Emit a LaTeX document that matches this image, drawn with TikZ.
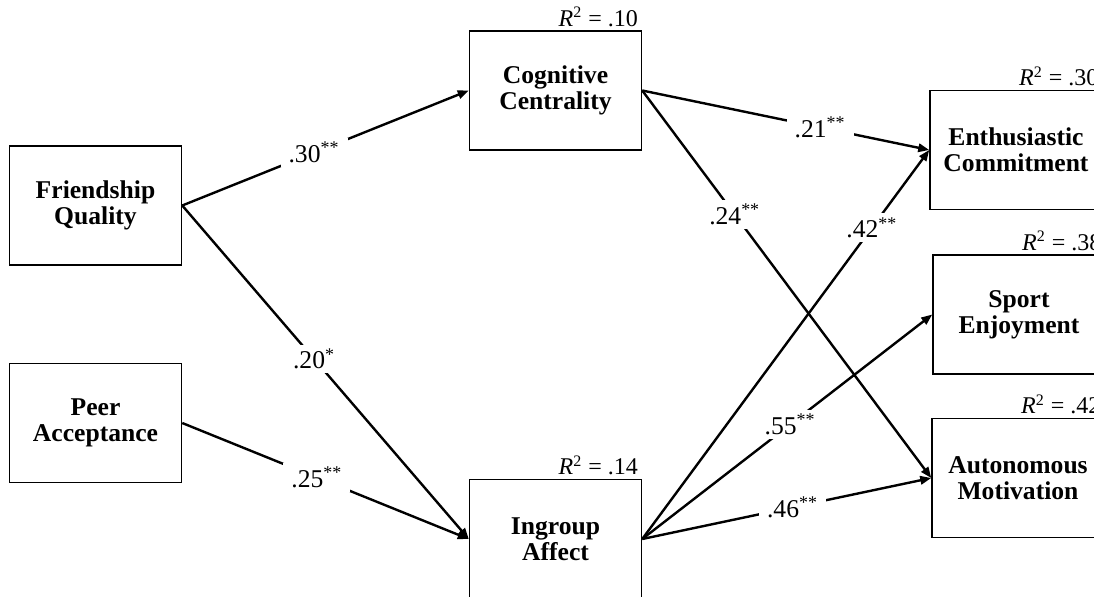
\documentclass[tikz,border=0pt]{standalone}
\usepackage{fontspec}
\setmainfont{Liberation Serif}
\usetikzlibrary{arrows.meta}
\tikzset{
  var/.style={draw, line width=0.75pt, minimum width=86pt, minimum height=59.5pt,
    inner sep=0pt, align=center, font=\fontsize{12.8}{13}\selectfont\bfseries},
  effect/.style={-{Triangle[length=5.5pt, width=4.2pt]}, line width=1.2pt},
  coef/.style={fill=white, inner xsep=4pt, inner ysep=2pt, font=\fontsize{12.8}{14}\selectfont},
  rsq/.style={anchor=base east, inner sep=0pt, xshift=-2pt, yshift=2pt,
    font=\fontsize{12}{14}\selectfont},
}
\newcommand{\rsqtxt}[1]{\textit{R}\textsuperscript{2} = #1}
\newcommand{\sig}[2]{#1\textsuperscript{#2}}

\begin{document}
\begin{tikzpicture}[x=0.5pt, y=-0.5pt]
\clip (0,0) rectangle (1094,596);

% ===================== predictors ===========================
\node[var] (FQ) at (95.5,205.5) {Friendship\\Quality};
\node[var] (PA) at (95.5,423)   {Peer\\Acceptance};

% ===================== mediators ============================
\node[var] (CC) at (555.5,90.5) {Cognitive\\Centrality};
\node[var] (IA) at (555.5,539)  {Ingroup\\Affect};
\node[rsq] at (CC.north east) {\rsqtxt{.10}};
\node[rsq] at (IA.north east) {\rsqtxt{.14}};

% ===================== outcomes =============================
\node[var] (EC) at (1016,150)   {Enthusiastic\\Commitment};
\node[var] (SE) at (1019,314.5) {Sport\\Enjoyment};
\node[var] (AM) at (1018,478)   {Autonomous\\Motivation};
\node[rsq] at (EC.north east) {\rsqtxt{.30}};
\node[rsq] at (SE.north east) {\rsqtxt{.38}};
\node[rsq] at (AM.north east) {\rsqtxt{.42}};

% ===================== paths ================================
\draw[effect] (FQ.east) -- (CC.west) node[coef, pos=0.46] {\sig{.30}{**}};
\draw[effect] (FQ.east) -- (IA.west) node[coef, pos=0.46] {\sig{.20}{*}};
\draw[effect] (PA.east) -- (IA.west) node[coef, pos=0.47] {\sig{.25}{**}};
\draw[effect] (CC.east) -- (EC.west) node[coef, pos=0.62] {\sig{.21}{**}};
\draw[effect] (CC.east) -- (AM.west) node[coef, pos=0.32] {\sig{.24}{**}};
\draw[effect] (IA.east) -- (EC.west) node[coef, pos=0.80] {\sig{.42}{**}};
\draw[effect] (IA.east) -- (SE.west) node[coef, pos=0.51] {\sig{.55}{**}};
\draw[effect] (IA.east) -- (AM.west) node[coef, pos=0.52] {\sig{.46}{**}};

\end{tikzpicture}
\end{document}
